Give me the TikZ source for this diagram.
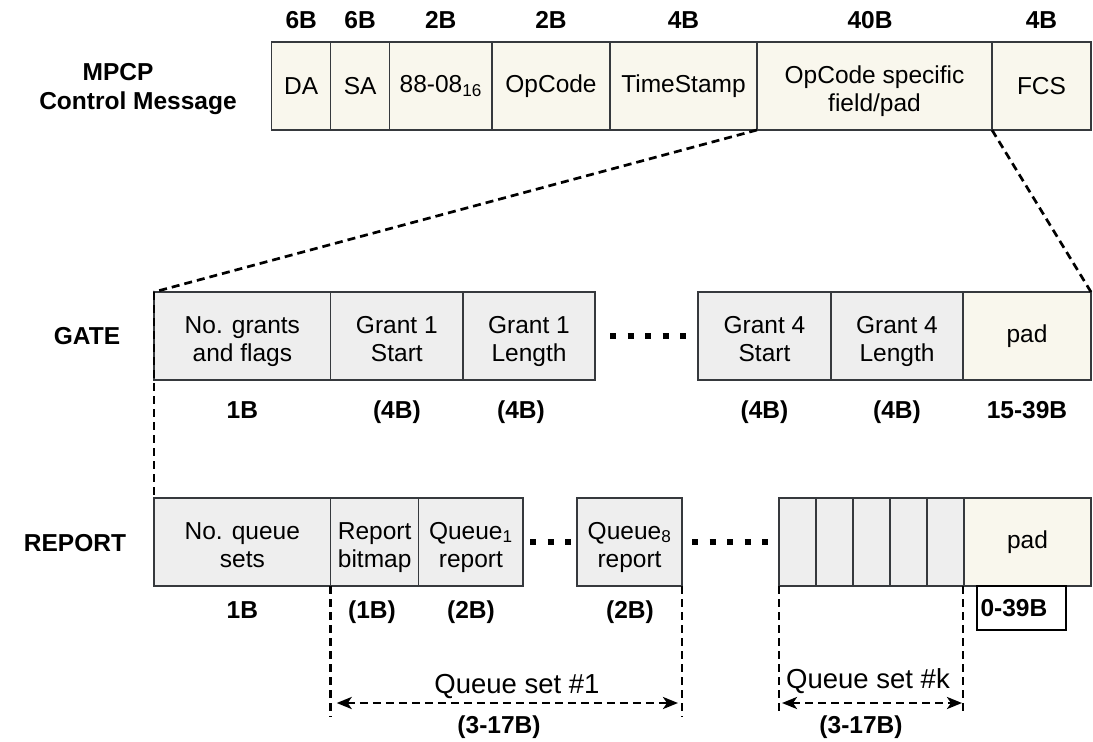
\documentclass[tikz,border=0pt]{standalone}
\usepackage{fontspec}
\setmainfont{Liberation Sans}
\usetikzlibrary{arrows.meta}
\definecolor{cream}{HTML}{F9F7ED}
\definecolor{greyfill}{HTML}{EEEEEE}
\definecolor{edge}{HTML}{36393D}
\newcommand\bodyfont{\fontsize{24.5}{28}\selectfont}
\newcommand\labfont{\fontsize{24.5}{28}\selectfont\bfseries}
\newcommand\qsfont{\fontsize{27.5}{31}\selectfont}
\begin{document}
\begin{tikzpicture}[x=1pt,y=-1pt,
 field/.style={draw=edge, line width=1.3pt, inner sep=0pt, outer sep=0pt, align=center, font=\bodyfont, minimum height=88pt},
 cr/.style={field, fill=cream},
 gr/.style={field, fill=greyfill},
 two/.style={text height=50pt, text depth=0pt},
 lab/.style={font=\labfont, anchor=base, inner sep=0pt},
 qlab/.style={font=\qsfont, anchor=base, inner sep=0pt},
 dashln/.style={line width=2.7pt, dash pattern=on 8pt off 5pt},
 dotln/.style={line width=6pt, dash pattern=on 6pt off 11.5pt},
 dimarrow/.style={dashln, {Stealth[length=15pt,width=12pt,inset=4pt]}-{Stealth[length=15pt,width=12pt,inset=4pt]}}
]
\useasboundingbox (0,0) rectangle (1093,742);

% ---- MPCP control message ----
\node[lab] (mp1) at (118,80) {MPCP};
\node[lab] (mp2) at (138,109) {Control Message};

\node[cr, minimum width=59pt]   (da)  at (301.2,86) {DA};
\node[cr, minimum width=58.8pt] (sa)  at (360.1,86) {SA};
\node[cr, minimum width=102.5pt](et)  at (440.75,86) {88-08\textsubscript{16}};
\node[cr, minimum width=118pt]  (op)  at (551,86) {OpCode};
\node[cr, minimum width=147pt]  (ts)  at (683.5,86) {TimeStamp};
\node[cr, two, minimum width=235pt]  (os)  at (874.5,86) {OpCode specific\\field/pad};
\node[cr, minimum width=99pt]   (fcs) at (1041.5,86) {FCS};

\node[lab] (h1) at (301.2,28) {6B};
\node[lab] (h2) at (360.1,28) {6B};
\node[lab] (h3) at (440.75,28) {2B};
\node[lab] (h4) at (551,28) {2B};
\node[lab] (h5) at (683.5,28) {4B};
\node[lab] (h6) at (870,28) {40B};
\node[lab] (h7) at (1041.5,28) {4B};

% ---- GATE ----
\node[lab] (gate) at (87,344) {GATE};
\node[gr, two, minimum width=176.7pt] (g1) at (242.35,336) {No. grants\\and flags};
\node[gr, two, minimum width=132.3pt] (g2) at (396.85,336) {Grant 1\\Start};
\node[gr, two, minimum width=132pt]   (g3) at (529,336) {Grant 1\\Length};
\node[gr, two, minimum width=133pt]   (g4) at (764.5,336) {Grant 4\\Start};
\node[gr, two, minimum width=132pt]   (g5) at (897,336) {Grant 4\\Length};
\node[cr, minimum width=128pt]   (gp) at (1027,336) {pad};

\node[lab] (gl1) at (242.35,418) {1B};
\node[lab] (gl2) at (396.85,418) {(4B)};
\node[lab] (gl3) at (521,418) {(4B)};
\node[lab] (gl4) at (764.5,418) {(4B)};
\node[lab] (gl5) at (897,418) {(4B)};
\node[lab] (gl6) at (1027,418) {15-39B};

\draw[dotln, shorten <=15pt, shorten >=12pt] (g3.east) -- (g4.west);

% ---- REPORT ----
\node[lab] (rep) at (75,551) {REPORT};
\node[gr, two, minimum width=176.7pt] (r1) at (242.35,542) {No. queue\\sets};
\node[gr, two, minimum width=88pt]    (r2) at (374.7,542) {Report\\bitmap};
\node[gr, two, minimum width=104.3pt] (r3) at (470.85,542) {Queue\textsubscript{1}\\report};
\node[gr, two, minimum width=105pt]   (r4) at (629.5,542) {Queue\textsubscript{8}\\report};
\node[gr, minimum width=37pt]    (c1) at (797.5,542) {};
\node[gr, minimum width=37pt]    (c2) at (834.5,542) {};
\node[gr, minimum width=37pt]    (c3) at (871.5,542) {};
\node[gr, minimum width=37pt]    (c4) at (908.5,542) {};
\node[gr, minimum width=37pt]    (c5) at (945.5,542) {};
\node[cr, minimum width=127pt]   (rp) at (1027.5,542) {pad};

\node[lab] (rl1) at (242.35,618) {1B};
\node[lab] (rl2) at (372,618) {(1B)};
\node[lab] (rl3) at (471,618) {(2B)};
\node[lab] (rl4) at (630,618) {(2B)};

\node[draw=black, line width=1.3pt, fill=white, font=\labfont, minimum height=44pt,
      text width=82pt, inner xsep=3.5pt, inner ysep=0pt, outer sep=0pt, align=left,
      anchor=north west] (pz) at (977,586) {0-39B};

\draw[dotln, shorten <=7pt, shorten >=6pt] (r3.east) -- (r4.west);
\draw[dotln, shorten <=10pt, shorten >=11pt] (r4.east) -- (c1.west);

% ---- zoom lines ----
\draw[dashln] (os.south west) -- (g1.north west);
\draw[dashln] (os.south east) -- (gp.north east);
\draw[dashln] (g1.north west) -- (r1.north west);

\coordinate (b1) at (330.7,717);
\coordinate (b2) at (682,717);
\coordinate (b3) at (779,715);
\coordinate (b4) at (963,715);
\draw[dashln] (r2.south west) -- (b1);
\draw[dashln] (r4.south east) -- (b2);
\draw[dashln] (c1.south west) -- (b3);
\draw[dashln] (963,586) -- (b4);

\coordinate (a1l) at (330.7,703);
\coordinate (a1r) at (682,703);
\coordinate (akl) at (779,703);
\coordinate (akr) at (963,703);
\draw[dimarrow, shorten <=6pt, shorten >=4pt] (a1l) -- (a1r);
\draw[dimarrow, shorten <=3pt, shorten >=1pt] (akl) -- (akr);

\node[qlab] (q1) at (517,693) {Queue set \#1};
\node[lab]  (q1b) at (499,733) {(3-17B)};
\node[qlab] (qk) at (868,688) {Queue set \#k};
\node[lab]  (qkb) at (861,733) {(3-17B)};
\end{tikzpicture}
\end{document}
